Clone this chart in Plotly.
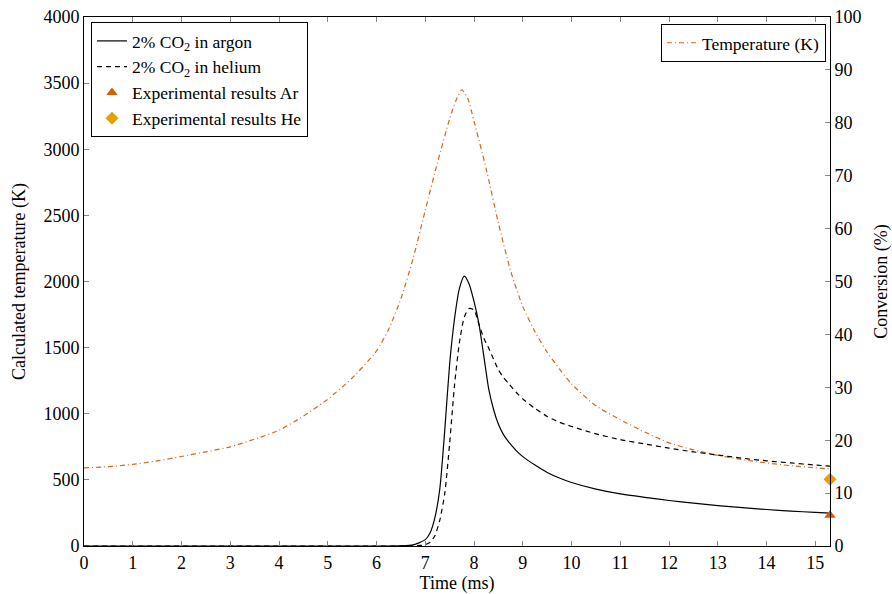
import plotly.graph_objects as go

# Temperature (left axis, K)
time_temp = [0, 0.5, 1, 1.5, 2, 2.5, 3, 3.5, 4, 4.5, 5, 5.5, 6, 6.25, 6.5, 6.75, 7, 7.25, 7.5, 7.625, 7.75, 7.875, 8, 8.25, 8.5, 8.75, 9, 9.25, 9.5, 9.75, 10, 10.5, 11, 11.5, 12, 12.5, 13, 13.5, 14, 14.5, 15, 15.3]
temperature = [590, 600, 617, 643, 677, 712, 750, 808, 875, 982, 1110, 1270, 1475, 1640, 1870, 2175, 2540, 2900, 3230, 3365, 3450, 3380, 3210, 2850, 2440, 2080, 1810, 1620, 1465, 1340, 1225, 1060, 955, 862, 780, 727, 685, 653, 628, 607, 591, 583]

# Conversion (right axis, %)
time_ar = [0, 5, 6, 6.5, 6.75, 7.0, 7.1, 7.2, 7.3, 7.4, 7.5, 7.6, 7.7, 7.8, 7.9, 8.0, 8.1, 8.2, 8.3, 8.4, 8.5, 8.6, 8.7, 8.8, 8.9, 9.0, 9.25, 9.5, 9.75, 10.0, 10.5, 11.0, 11.5, 12.0, 12.5, 13.0, 13.5, 14.0, 14.5, 15.0, 15.3]
conv_ar = [0, 0, 0, 0.02, 0.2, 1.2, 2.5, 5.5, 11, 22, 34.5, 43, 48.7, 51, 49.5, 46.2, 42.0, 35.9, 29.7, 25.8, 23.0, 21.1, 19.8, 18.7, 17.7, 16.9, 15.3, 13.9, 12.85, 12.0, 10.75, 9.85, 9.2, 8.6, 8.1, 7.65, 7.25, 6.9, 6.6, 6.35, 6.2]

time_he = [0, 5, 6, 6.5, 6.9, 7.0, 7.1, 7.2, 7.3, 7.4, 7.5, 7.6, 7.7, 7.8, 7.9, 8.0, 8.1, 8.2, 8.3, 8.4, 8.5, 8.6, 8.7, 8.8, 8.9, 9.0, 9.25, 9.5, 9.75, 10.0, 10.5, 11.0, 11.5, 12.0, 12.5, 13.0, 13.5, 14.0, 14.5, 15.0, 15.3]
conv_he = [0, 0, 0, 0.01, 0.1, 0.25, 0.7, 2.0, 5.0, 10, 19.5, 30.5, 38.5, 43.3, 44.9, 44.6, 41.9, 39.3, 37.4, 35.3, 33.3, 31.9, 30.8, 29.7, 28.7, 27.8, 26.0, 24.5, 23.4, 22.6, 21.2, 20.1, 19.3, 18.5, 17.8, 17.2, 16.6, 16.1, 15.7, 15.3, 15.1]

# Experimental results (%)
exp_time = [15.3]
exp_ar = [5.8]
exp_he = [12.6]

FONT = "Liberation Serif"
ORANGE = "#D9651A"

fig = go.Figure()

fig.add_trace(go.Scatter(
    x=time_ar, y=conv_ar, yaxis="y2", mode="lines",
    line=dict(color="black", width=1.2, shape="spline", smoothing=0.6),
    name="2% CO<sub>2</sub> in argon", legend="legend"))
fig.add_trace(go.Scatter(
    x=time_he, y=conv_he, yaxis="y2", mode="lines",
    line=dict(color="black", width=1.2, dash="5px,4px", shape="spline", smoothing=0.6),
    name="2% CO<sub>2</sub> in helium", legend="legend"))
fig.add_trace(go.Scatter(
    x=exp_time, y=exp_ar, yaxis="y2", mode="markers", cliponaxis=False,
    marker=dict(symbol="triangle-up", color="#D55E00", size=10),
    name="Experimental results Ar", legend="legend"))
fig.add_trace(go.Scatter(
    x=exp_time, y=exp_he, yaxis="y2", mode="markers", cliponaxis=False,
    marker=dict(symbol="diamond", color="#E69F00", size=10),
    name="Experimental results He", legend="legend"))
fig.add_trace(go.Scatter(
    x=time_temp, y=temperature, yaxis="y", mode="lines",
    line=dict(color=ORANGE, width=1.2, dash="5px,3px,1px,3px", shape="spline", smoothing=0.6),
    name="Temperature (K)", legend="legend2"))

axis_common = dict(
    showgrid=False, zeroline=False, showline=True, linecolor="black", linewidth=1,
    ticks="inside", ticklen=5, tickcolor="#888888", tickwidth=1, automargin=False,
    tickfont=dict(family=FONT, size=18, color="black"),
)

fig.update_layout(
    width=892, height=594,
    margin=dict(l=84, r=62, t=17, b=48),
    paper_bgcolor="white", plot_bgcolor="white",
    font=dict(family=FONT, size=18, color="black"),
    xaxis=dict(range=[0, 15.3], dtick=1, mirror="ticks",
               title=dict(text="Time (ms)", standoff=9, font=dict(family=FONT, size=18)),
               **axis_common),
    yaxis=dict(range=[0, 4000], dtick=500,
               title=dict(text="Calculated temperature (K)", standoff=13, font=dict(family=FONT, size=18)),
               **axis_common),
    yaxis2=dict(range=[0, 100], dtick=10, overlaying="y", side="right",
                title=dict(text="Conversion (%)", standoff=17, font=dict(family=FONT, size=18)),
                **axis_common),
    legend=dict(x=0.0094, y=0.9905, xanchor="left", yanchor="top",
                bgcolor="white", bordercolor="black", borderwidth=1,
                font=dict(family=FONT, size=17.5), tracegroupgap=0, itemwidth=30),
    legend2=dict(x=0.9946, y=0.987, xanchor="right", yanchor="top",
                 bgcolor="white", bordercolor="black", borderwidth=1,
                 font=dict(family=FONT, size=17.5), itemwidth=30),
    showlegend=True,
)

fig.write_html("out.html")
